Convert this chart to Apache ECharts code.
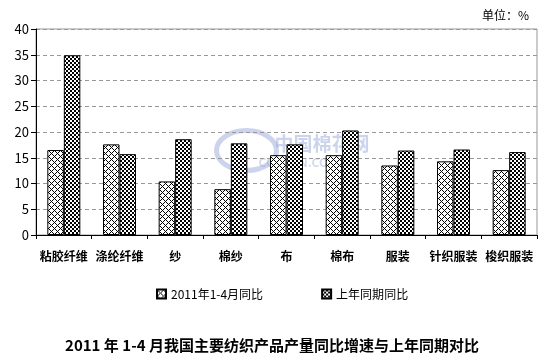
<!DOCTYPE html>
<html>
<head>
<meta charset="utf-8">
<script src="https://cdn.jsdelivr.net/npm/echarts@6/dist/echarts.min.js"></script>
<style>html,body{margin:0;padding:0;background:#fff}#c{width:544px;height:360px}</style>
</head>
<body>
<div id="c"></div>
<script>
const categories = ['粘胶纤维','涤纶纤维','纱','棉纱','布','棉布','服装','针织服装','梭织服装'];
const seriesNames = ['2011年1-4月同比','上年同期同比'];
const values2011 = [16.5, 17.6, 10.4, 8.9, 15.5, 15.5, 13.5, 14.3, 12.6];
const valuesPrev = [34.9, 15.7, 18.6, 17.8, 17.6, 20.3, 16.4, 16.6, 16.1];
const yTicks = [0, 5, 10, 15, 20, 25, 30, 35, 40];

function crossHatch() {
  const n = 6, c = document.createElement('canvas');
  c.width = n; c.height = n;
  const ctx = c.getContext('2d');
  ctx.fillStyle = '#fff'; ctx.fillRect(0, 0, n, n);
  ctx.fillStyle = '#000';
  for (let x = 0; x < n; x++) for (let y = 0; y < n; y++) {
    if ((x + y) % n === 0 || ((x - y) % n + n) % n === 0) ctx.fillRect(x, y, 1, 1);
  }
  return c;
}
function checker() {
  const n = 4, c = document.createElement('canvas');
  c.width = n; c.height = n;
  const ctx = c.getContext('2d');
  ctx.fillStyle = '#fff'; ctx.fillRect(0, 0, n, n);
  ctx.fillStyle = '#000';
  ctx.fillRect(0, 0, 2, 2); ctx.fillRect(2, 2, 2, 2);
  return c;
}

const font = '"Noto Sans CJK SC", "Liberation Sans", sans-serif';
const chart = echarts.init(document.getElementById('c'), null, {renderer: 'canvas'});
chart.setOption({
  animation: false,
  backgroundColor: '#fff',
  textStyle: {fontFamily: font},
  grid: {left: 36, right: 7, top: 29, bottom: 125, show: true, borderColor: '#999', borderWidth: 1},
  title: [
    {text: '2011 年 1-4 月我国主要纺织产品产量同比增速与上年同期对比', left: 'center', top: 333,
     textStyle: {fontSize: 15, fontWeight: 'bold', color: '#000', fontFamily: font}},
    {text: '单位：%', right: 10, top: 4, textStyle: {fontSize: 12, fontWeight: 'normal', color: '#000', fontFamily: font}}
  ],
  legend: {
    data: seriesNames, top: 283, left: 151, itemWidth: 9, itemHeight: 9, itemGap: 58,
    icon: 'rect',
    textStyle: {fontSize: 12, color: '#000', fontFamily: font}
  },
  xAxis: {
    type: 'category', data: categories, boundaryGap: true,
    axisLine: {lineStyle: {color: '#000', width: 1}},
    axisTick: {show: true, length: 4, lineStyle: {color: '#000'}},
    axisLabel: {interval: 0, margin: 15, fontSize: 12, fontWeight: 'bold', color: '#000'}
  },
  yAxis: {
    type: 'value', min: 0, max: 40, interval: 5,
    axisLine: {show: true, lineStyle: {color: '#000', width: 1}},
    axisTick: {show: true, length: 5, lineStyle: {color: '#000'}},
    axisLabel: {margin: 7, fontSize: 13, color: '#000',
      formatter: v => yTicks.includes(v) ? String(v) : ''},
    splitLine: {show: true, lineStyle: {color: '#999', type: [4, 3], width: 1}}
  },
  series: [
    {name: seriesNames[0], type: 'bar', data: values2011, barWidth: 16.5, barGap: '0%',
     itemStyle: {color: {image: crossHatch(), repeat: 'repeat'}, borderColor: '#000', borderWidth: 1}},
    {name: seriesNames[1], type: 'bar', data: valuesPrev, barWidth: 16.5, barGap: '0%',
     itemStyle: {color: {image: checker(), repeat: 'repeat'}, borderColor: '#000', borderWidth: 1}}
  ],
  graphic: [
    {type: 'group', left: 214, top: 128, silent: true, children: [
      {type: 'ellipse', shape: {cx: 32, cy: 22, rx: 30, ry: 20}, style: {fill: 'none', stroke: '#8f9fd6', lineWidth: 5, opacity: 0.45}},
      {type: 'text', left: 60, top: 6, style: {text: '中国棉花网', fontSize: 19, fontWeight: 'bold', fill: '#8f9fd6', opacity: 0.45, fontFamily: font}},
      {type: 'text', left: 44, top: 28, style: {text: 'COTTON.COM', fontSize: 12, fontWeight: 'bold', fill: '#8f9fd6', opacity: 0.4, fontFamily: font}}
    ]}
  ]
});
</script>
</body>
</html>
